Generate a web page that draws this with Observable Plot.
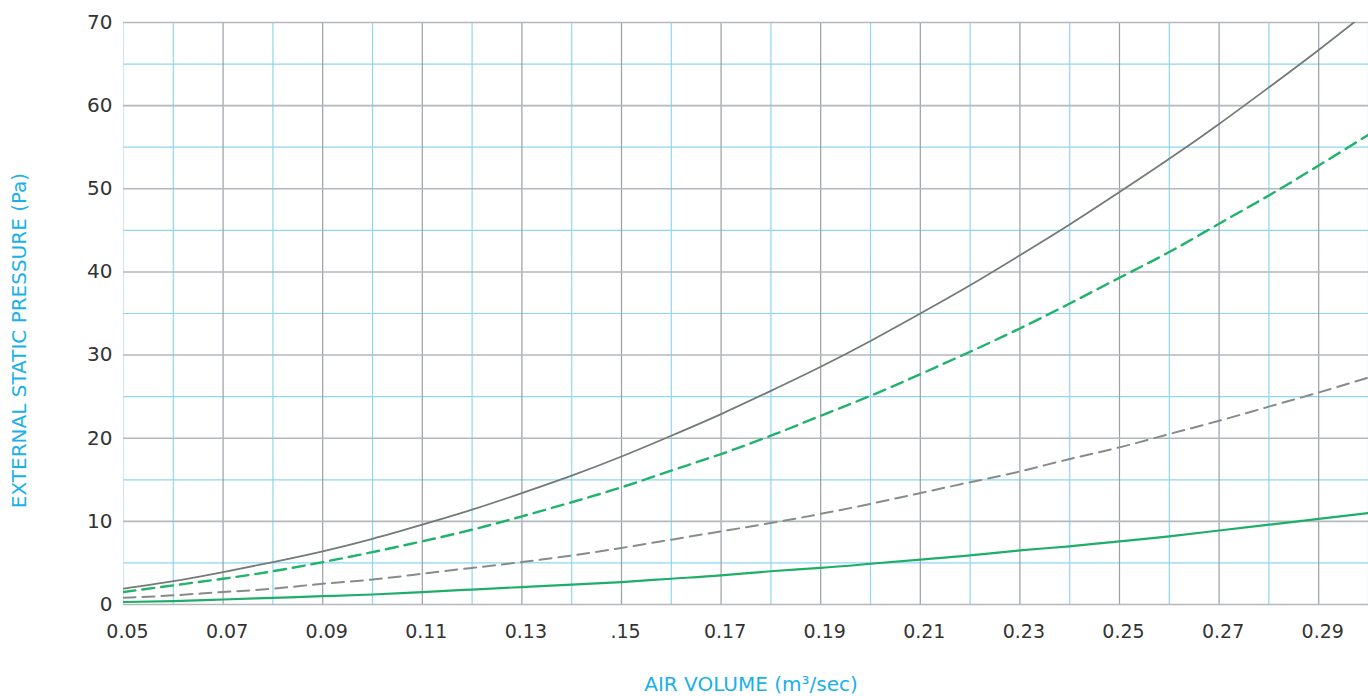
<!DOCTYPE html>
<html>
<head>
<meta charset="utf-8">
<script src="https://cdn.jsdelivr.net/npm/d3@7"></script>
<script src="https://cdn.jsdelivr.net/npm/@observablehq/plot@0.6"></script>
<style>
  html, body { margin: 0; padding: 0; background: #fff; }
  #chart svg { display: block; }
</style>
</head>
<body>
<div id="chart"></div>
<script>
// Air volume (m³/sec)
const airVolume = [0.05,0.06,0.07,0.08,0.09,0.10,0.11,0.12,0.13,0.14,0.15,0.16,0.17,0.18,0.19,0.20,0.21,0.22,0.23,0.24,0.25,0.26,0.27,0.28,0.29,0.30];
// External static pressure (Pa) per curve
const graySolid  = [1.9,2.8,3.9,5.1,6.4,7.9,9.6,11.4,13.4,15.5,17.8,20.3,22.9,25.7,28.6,31.7,35.0,38.4,42.0,45.7,49.6,53.6,57.8,62.2,66.7,71.4];
const greenDash  = [1.5,2.3,3.1,4.0,5.1,6.3,7.6,9.0,10.6,12.3,14.1,16.1,18.1,20.3,22.7,25.1,27.7,30.4,33.2,36.2,39.3,42.4,45.8,49.2,52.8,56.5];
const grayDash   = [0.8,1.1,1.5,1.9,2.5,3.0,3.7,4.4,5.1,5.9,6.8,7.8,8.8,9.8,10.9,12.1,13.4,14.7,16.0,17.5,18.9,20.5,22.1,23.8,25.5,27.3];
const greenSolid = [0.3,0.4,0.6,0.8,1.0,1.2,1.5,1.8,2.1,2.4,2.7,3.1,3.5,4.0,4.4,4.9,5.4,5.9,6.5,7.0,7.6,8.2,8.9,9.6,10.3,11.0];

// Ticks and grid
const xTicks = [0.05,0.07,0.09,0.11,0.13,0.15,0.17,0.19,0.21,0.23,0.25,0.27,0.29];
const xTickLabels = ["0.05","0.07","0.09","0.11","0.13",".15","0.17","0.19","0.21","0.23","0.25","0.27","0.29"];
const xMinorGrid = [0.06,0.08,0.10,0.12,0.14,0.16,0.18,0.20,0.22,0.24,0.26,0.28,0.30];
const yTicks = [0,10,20,30,40,50,60,70];
const yMinorGrid = [5,15,25,35,45,55,65];

const toRows = (vals) => airVolume.map((x, i) => ({x, y: vals[i]}));

const chart = Plot.plot({
  width: 1368,
  height: 696,
  marginLeft: 123,
  marginRight: 0,
  marginTop: 22,
  marginBottom: 92,
  style: {fontFamily: "'DejaVu Sans', sans-serif", fontSize: "19px", color: "#333"},
  x: {domain: [0.05, 0.30], label: null},
  y: {domain: [0, 70], label: null},
  marks: [
    Plot.ruleX([0.05], {stroke: "#cfe6ec", strokeWidth: 1}),
    Plot.ruleX(xMinorGrid, {stroke: "#8fd6f3", strokeWidth: 1.2}),
    Plot.ruleY(yMinorGrid, {stroke: "#8fd6f3", strokeWidth: 1.2}),
    Plot.ruleX(xTicks.slice(1), {stroke: "#9a9fa6", strokeWidth: 1.2}),
    Plot.ruleY(yTicks, {stroke: "#b4b8bd", strokeWidth: 1.6}),
    Plot.axisX(xTicks, {tickSize: 0, tickPadding: 20, dx: 4, tickFormat: (d) => xTickLabels[xTicks.indexOf(d)], fill: "#333", fontSize: 19, label: null}),
    Plot.axisY(yTicks, {tickSize: 0, tickPadding: 11, fill: "#333", fontSize: 20, label: null}),
    Plot.text(["EXTERNAL STATIC PRESSURE (Pa)"], {frameAnchor: "left", dx: -104, dy: 27, rotate: -90, fill: "#1ab0ea", fontSize: 20, textAnchor: "middle"}),
    Plot.text(["AIR VOLUME (m³/sec)"], {frameAnchor: "bottom", dx: 5, dy: 86, fill: "#1ab0ea", fontSize: 20, textAnchor: "middle"}),
    Plot.line(toRows(greenSolid), {x: "x", y: "y", curve: "natural", stroke: "#1fae6a", strokeWidth: 2.2, clip: true}),
    Plot.line(toRows(grayDash), {x: "x", y: "y", curve: "natural", stroke: "#868d89", strokeWidth: 2, strokeDasharray: "12,7", clip: true}),
    Plot.line(toRows(greenDash), {x: "x", y: "y", curve: "natural", stroke: "#1fb36c", strokeWidth: 2.4, strokeDasharray: "12,7", clip: true}),
    Plot.line(toRows(graySolid), {x: "x", y: "y", curve: "natural", stroke: "#737b76", strokeWidth: 1.8, clip: true})
  ]
});
document.getElementById("chart").append(chart);
</script>
</body>
</html>
